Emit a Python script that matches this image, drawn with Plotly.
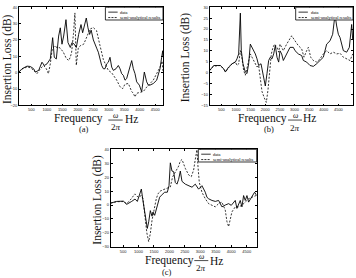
import plotly.graph_objects as go

# ---------------- data ----------------
# Panel (a)
fa_data = [100, 197, 358, 466, 573, 627, 735, 842, 918, 1004, 1111, 1187, 1240, 1305, 1380, 1434, 1488, 1542,
           1617, 1682, 1757, 1811, 1886, 1951, 2026, 2102, 2155, 2209, 2273, 2327, 2381, 2430, 2501, 2608, 2662,
           2770, 2824, 2877, 2931, 2985, 3039, 3093, 3146, 3232, 3308, 3362, 3415, 3469, 3523, 3577, 3631, 3685,
           3739, 3792, 3846, 3900, 3986, 4061, 4115, 4147, 4223, 4276, 4330, 4438, 4545, 4653, 4707, 4740, 4750]
ia_data = [0.5, 2.4, 4.0, 3.8, 2.4, 0.4, 1.4, 6.4, 4.4, 5.4, 8.4, 21.4, 9.4, 8.4, 22.4, 27.4, 17.4, 22.4,
           32.4, 18.4, 15.4, 18.4, 17.4, 15.4, 23.4, 29.4, 24.4, 29.4, 33.4, 27.4, 23.4, 26.0, 20.0, 15.0, 12.5,
           4.4, 2.4, 2.4, 5.4, 6.4, 9.4, 3.4, 1.4, 2.4, 4.4, 2.4, -0.6, -1.6, -4.6, -3.6, 0.4, 4.4,
           7.4, 2.4, -0.6, -5.6, -7.6, -11.6, -5.6, 0.4, -5.6, -7.6, -7.6, -6.6, -4.6, 2.4, 9.4, 13.4, 10.0]
fa_sim = [100, 200, 360, 470, 573, 681, 789, 897, 983, 1050, 1111, 1165, 1240, 1326, 1423, 1530, 1620, 1700,
          1757, 1800, 1860, 1905, 1950, 2015, 2080, 2188, 2262, 2391, 2499, 2606, 2716, 2824, 2929, 2985, 3091,
          3146, 3254, 3362, 3448, 3523, 3631, 3739, 3792, 3844, 3900, 4007, 4115, 4223, 4330, 4438, 4545, 4653,
          4720, 4750]
ia_sim = [0.5, 2.2, 3.5, 3.0, 1.5, -0.6, 2.4, 4.4, 2.4, -0.6, 5.4, 13.4, 16.4, 15.4, 15.2, 12.6, 9.0, 7.4,
          9.4, 12.6, 24.0, 36.5, 4.5, 15.0, 16.5, 17.4, 20.6, 26.6, 27.6, 25.6, 16.5, 8.0, 3.6, 1.4, 0.0,
          -1.6, -4.5, -8.6, -9.7, -7.0, -6.6, -11.5, -12.6, -14.8, -12.6, -12.0, -11.5, -8.8, -6.5, -4.5, -0.6, 3.4,
          7.0, 1.0]

# Panel (b)
fb_data = [100, 236, 464, 578, 635, 749, 863, 977, 1033, 1090, 1148, 1181, 1238, 1318, 1375, 1432, 1489, 1546,
           1603, 1660, 1717, 1774, 1854, 1922, 2002, 2059, 2116, 2173, 2230, 2287, 2344, 2401, 2458, 2504, 2561,
           2618, 2732, 2846, 2960, 3017, 3131, 3245, 3302, 3416, 3530, 3644, 3758, 3872, 3986, 4100, 4214, 4305,
           4385, 4442, 4499, 4556, 4670, 4784, 4875, 4955, 4990]
ib_data = [1.0, 3.3, 3.3, 1.8, 0.3, 2.6, 4.1, 4.85, 6.35, 8.6, 27.3, 10.1, 4.1, 0.3, -0.4, 4.1, 13.1, 11.6,
           9.4, 8.6, 6.35, 3.3, 4.1, -1.15, -6.1, -0.4, 5.6, 7.1, 6.35, 8.6, 12.4, 7.1, 4.85, 10.0, 8.6,
           5.6, 8.6, 11.6, 11.6, 10.1, 8.6, 7.85, 5.6, 4.85, 3.3, 2.9, 4.1, 5.6, 7.1, 13.1, 14.6, 17.6,
           26.6, 21.4, 17.6, 16.1, 10.1, 9.4, 11.6, 22.1, 15.0]
fb_sim = [100, 236, 464, 578, 650, 749, 863, 977, 1033, 1090, 1148, 1200, 1260, 1318, 1375, 1489, 1546, 1660,
          1717, 1774, 1831, 1888, 1968, 2036, 2093, 2150, 2207, 2264, 2321, 2401, 2458, 2504, 2618, 2732, 2846,
          2903, 3017, 3131, 3245, 3325, 3416, 3473, 3553, 3644, 3758, 3872, 3986, 4100, 4214, 4328, 4442, 4556,
          4670, 4784, 4898, 4990]
ib_sim = [1.0, 3.0, 3.3, 1.5, 0.5, 2.3, 4.0, 5.0, 3.3, 4.0, 10.1, 7.0, 1.1, -1.15, 1.8, 8.6, 7.1, 4.1,
          2.6, 3.3, -3.4, -8.6, -11.6, -13.6, -7.9, 1.1, 8.6, 11.6, 13.1, 11.6, 9.4, 13.1, 10.1, 13.1, 16.1,
          16.9, 14.6, 12.4, 10.9, 7.1, 10.1, 11.6, 7.1, 5.6, 4.85, 6.35, 8.6, 10.1, 8.6, 9.4, 8.6, 8.9,
          7.1, 6.35, 5.6, 8.6]

# Panel (c)
fc_data = [100, 294, 510, 618, 779, 886, 962, 1092, 1145, 1186, 1240, 1285, 1330, 1383, 1437, 1468, 1523, 1575,
           1630, 1684, 1740, 1847, 1933, 1987, 2030, 2083, 2137, 2191, 2245, 2299, 2353, 2407, 2515, 2623, 2731,
           2837, 2945, 3053, 3161, 3215, 3269, 3377, 3485, 3592, 3646, 3700, 3808, 3916, 4002, 4077, 4131, 4185,
           4239, 4293, 4347, 4401, 4455, 4509, 4563, 4671, 4757, 4825]
ic_data = [1.4, 2.6, 2.8, 0.5, 2.6, 4.3, 2.6, 11.5, 3.0, -2.0, -10.0, -16.8, -12.0, -4.0, -8.0, -5.0, -7.4, -2.7,
           2.1, 5.6, 7.0, 9.2, 9.2, 13.9, 30.3, 24.4, 24.0, 16.2, 15.0, 18.5, 24.4, 17.0, 15.0, 13.9, 12.8,
           15.0, 11.4, 13.9, 9.2, 5.6, 4.5, 3.3, 2.6, 3.3, 1.0, -1.3, 0.0, 1.0, -0.2, 2.1, 3.3, -2.4,
           1.0, 3.3, -1.3, 6.8, 3.3, 6.8, 2.1, 5.6, 9.2, 6.8]
fc_sim = [100, 294, 510, 618, 767, 880, 988, 1092, 1145, 1221, 1270, 1329, 1383, 1437, 1523, 1575, 1630, 1700,
          1800, 1933, 2030, 2100, 2200, 2300, 2350, 2407, 2515, 2623, 2708, 2783, 2837, 2891, 2924, 2967, 3053,
          3161, 3269, 3377, 3485, 3592, 3700, 3808, 3862, 3916, 3970, 4024, 4131, 4239, 4347, 4455, 4563, 4671,
          4778, 4825]
ic_sim = [1.4, 2.4, 2.5, 1.0, 4.5, 8.0, 5.6, 6.8, 4.5, -12.0, -20.0, -26.3, -20.4, -11.0, -0.2, 4.5, 8.0, 10.0,
          11.0, 12.0, 13.0, 20.0, 24.0, 28.0, 31.5, 32.7, 26.3, 21.6, 20.4, 25.1, 32.7, 39.7, 28.0, 16.2, 9.2,
          4.5, 1.0, -0.2, -1.3, 1.0, 2.1, -3.7, -11.9, -15.5, -10.8, -4.9, -1.3, -1.3, -0.2, 2.1, 4.5, 5.6,
          6.8, 7.0]

x_tickvals = [500, 1000, 1500, 2000, 2500, 3000, 3500, 4000, 4500]
y_ticks_a = [-20, -10, 0, 10, 20, 30, 40]
y_ticks_b = [-15, -10, -5, 0, 5, 10, 15, 20, 25, 30]
y_ticks_c = [-30, -20, -10, 0, 10, 20, 30, 40]
legend_labels = ["data", "semi-analytical results"]
ylabel = "Insertion Loss (dB)"
panel_tags = ["(a)", "(b)", "(c)"]

# ---------------- figure ----------------
W, H = 356, 278
SERIF = "Liberation Serif"

def px(x):
    return x / W

def py(y):
    return 1 - y / H

panels = [
    dict(ax="", fd=fa_data, idd=ia_data, fs=fa_sim, isim=ia_sim, yt=y_ticks_a, yr=[-20, 40], xr=[100, 4750],
         xdom=[19, 163], ydom=[4.3, 104.3],
         freq=(78.5, 118), frac=(108.3, 122.7, 119.2), om=114.3, tp=126.6, hz=131.3, tag=(84.3, 128),
         yl=(7.3, 56.7)),
    dict(ax="2", fd=fb_data, idd=ib_data, fs=fb_sim, isim=ib_sim, yt=y_ticks_b, yr=[-15, 30], xr=[100, 5000],
         xdom=[209.7, 353], ydom=[4.3, 104.3],
         freq=(262.5, 117.5), frac=(288, 302, 119.2), om=114.3, tp=126.8, hz=309.7, tag=(269.3, 128),
         yl=(185.3, 55)),
    dict(ax="3", fd=fc_data, idd=ic_data, fs=fc_sim, isim=ic_sim, yt=y_ticks_c, yr=[-30, 40], xr=[100, 4825],
         xdom=[110.7, 256.7], ydom=[149, 248.3],
         freq=(169.5, 262.5), frac=(194.3, 208.3, 262.3), om=258.6, tp=270, hz=216.2, tag=(166.7, 273.8),
         yl=(97.3, 200)),
]

fig = go.Figure()
shapes = []
annotations = []
layout = dict(width=W, height=H, margin=dict(l=0, r=0, t=0, b=0),
              paper_bgcolor="white", plot_bgcolor="white", showlegend=False)

axis_common = dict(showline=True, linecolor="black", linewidth=0.8, mirror="ticks", ticks="inside",
                   ticklen=2, tickwidth=0.6, tickcolor="black", showgrid=False, zeroline=False,
                   tickfont=dict(family="Liberation Sans", size=4, color="#222"))

for p in panels:
    xa = "x" + p["ax"]
    ya = "y" + p["ax"]
    fig.add_trace(go.Scatter(x=p["fd"], y=p["idd"], mode="lines", xaxis=xa, yaxis=ya,
                             line=dict(color="black", width=0.9), name=legend_labels[0]))
    fig.add_trace(go.Scatter(x=p["fs"], y=p["isim"], mode="lines", xaxis=xa, yaxis=ya,
                             line=dict(color="black", width=0.8, dash="2px,1.6px"), name=legend_labels[1]))
    layout["xaxis" + p["ax"]] = dict(axis_common, domain=[px(p["xdom"][0]), px(p["xdom"][1])],
                                     range=p["xr"], tickvals=x_tickvals, anchor=ya)
    layout["yaxis" + p["ax"]] = dict(axis_common, domain=[py(p["ydom"][1]), py(p["ydom"][0])],
                                     range=p["yr"], tickvals=p["yt"], anchor=xa)
    xd = xa + " domain"
    yd = ya + " domain"
    # legend box
    shapes.append(dict(type="rect", xref=xd, yref=yd, x0=0.60, x1=1.0, y0=0.87, y1=1.0,
                       line=dict(color="black", width=0.8), fillcolor="white", layer="above"))
    shapes.append(dict(type="line", xref=xd, yref=yd, x0=0.62, x1=0.685, y0=0.95, y1=0.95,
                       line=dict(color="black", width=0.8), layer="above"))
    shapes.append(dict(type="line", xref=xd, yref=yd, x0=0.62, x1=0.685, y0=0.895, y1=0.895,
                       line=dict(color="black", width=0.8, dash="2px,1.2px"), layer="above"))
    annotations.append(dict(xref=xd, yref=yd, x=0.69, y=0.95, text=legend_labels[0], showarrow=False,
                            xanchor="left", yanchor="middle", font=dict(family=SERIF, size=4.5, color="black")))
    annotations.append(dict(xref=xd, yref=yd, x=0.69, y=0.895, text=legend_labels[1], showarrow=False,
                            xanchor="left", yanchor="middle", font=dict(family=SERIF, size=4.5, color="black")))
    # x label: Frequency  omega/2pi  Hz
    annotations.append(dict(xref="paper", yref="paper", x=px(p["freq"][0]), y=py(p["freq"][1]),
                            text="Frequency", showarrow=False, xanchor="center", yanchor="middle",
                            borderpad=0, font=dict(family=SERIF, size=11.5, color="#111")))
    fx0, fx1, fy = p["frac"]
    shapes.append(dict(type="line", xref="paper", yref="paper", x0=px(fx0), x1=px(fx1), y0=py(fy), y1=py(fy),
                       line=dict(color="black", width=0.7)))
    annotations.append(dict(xref="paper", yref="paper", x=px((fx0 + fx1) / 2), y=py(p["om"]),
                            text="<i>ω</i>", showarrow=False, xanchor="center", yanchor="middle",
                            borderpad=0, font=dict(family=SERIF, size=7.5, color="#111")))
    annotations.append(dict(xref="paper", yref="paper", x=px((fx0 + fx1) / 2), y=py(p["tp"]),
                            text="2<i>π</i>", showarrow=False, xanchor="center", yanchor="middle",
                            borderpad=0, font=dict(family=SERIF, size=9, color="#111")))
    annotations.append(dict(xref="paper", yref="paper", x=px(p["hz"]), y=py(p["freq"][1]),
                            text="Hz", showarrow=False, xanchor="center", yanchor="middle",
                            borderpad=0, font=dict(family=SERIF, size=11.5, color="#111")))
    annotations.append(dict(xref="paper", yref="paper", x=px(p["tag"][0]), y=py(p["tag"][1]),
                            text=panel_tags[int(p["ax"] or 1) - 1], showarrow=False, xanchor="center",
                            borderpad=0, yanchor="middle", font=dict(family=SERIF, size=8.5, color="#111")))
    annotations.append(dict(xref="paper", yref="paper", x=px(p["yl"][0]), y=py(p["yl"][1]),
                            text=ylabel, textangle=-90, showarrow=False, xanchor="center",
                            borderpad=0, yanchor="middle", font=dict(family=SERIF, size=11.5, color="#111")))

layout["shapes"] = shapes
layout["annotations"] = annotations
fig.update_layout(**layout)
fig.write_html("out.html")
